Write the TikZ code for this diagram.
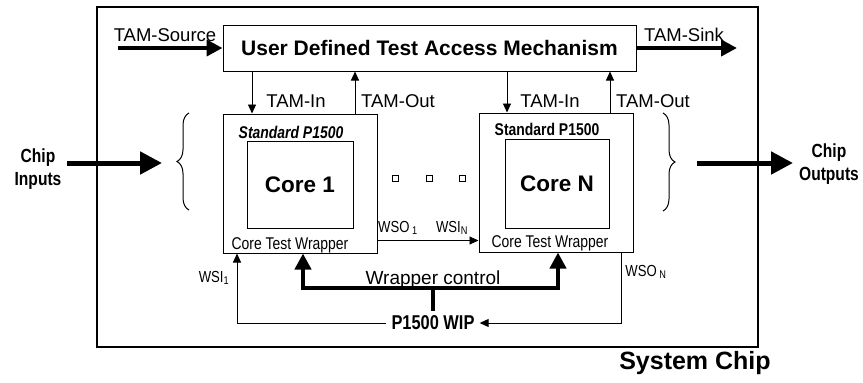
\documentclass[tikz,border=0pt]{standalone}
\usepackage{fontspec}
\setmainfont{Liberation Sans}
\newfontfamily\narrowfont[FakeStretch=0.82]{Liberation Sans}
\usetikzlibrary{arrows.meta,decorations.pathreplacing}

\newcommand{\fsz}[1]{\fontsize{#1}{#1}\selectfont}

\begin{document}
\begin{tikzpicture}[x=1pt,y=-1pt,
  box/.style={draw,line width=1pt,inner sep=0pt},
  lbl/.style={inner sep=1pt,font=\fsz{18.5}},
  nlbl/.style={inner sep=1pt,font=\narrowfont\fsz{16}},
  thinarr/.style={line width=0.9pt,-{Triangle[length=9pt,width=8pt]}},
  fatarr/.style={line width=4pt,-{Triangle[length=16pt,width=16pt]}},
  bigarr/.style={line width=5pt,-{Triangle[length=22pt,width=22pt]}},
  brc/.style={decorate,decoration={brace,amplitude=12pt},line width=1pt},
  sq/.style={draw,line width=0.8pt,minimum size=6pt,inner sep=0pt}]
\useasboundingbox (0,0) rectangle (863,383);

\node[box,line width=1.3pt,minimum width=661pt,minimum height=340pt] (chip) at (427.5,177) {};
\node[font=\bfseries\fsz{25}] (chipname) at (695,363) {System Chip};

% test access mechanism
\node[box,minimum width=413pt,minimum height=46pt,font=\bfseries\fsz{21}] (tam) at (429.5,48) {User Defined Test Access Mechanism};
\coordinate (src) at (118,48);
\coordinate (snk) at (737,48);
\draw[fatarr] (src) -- (tam.west);
\draw[fatarr] (tam.east) -- (snk);
\node[lbl] (srclbl) at (165,35) {TAM-Source};
\node[lbl] (snklbl) at (684,35) {TAM-Sink};

% wrapped cores
\node[box,minimum width=154pt,minimum height=139pt] (w1) at (300,183.5) {};
\node[box,minimum width=106pt,minimum height=87pt,font=\bfseries\fsz{22.5}] (c1) at (300,184.5) {Core 1};
\node[font=\narrowfont\bfseries\itshape\fsz{17}] (std1) at (291,132) {Standard P1500};
\node[font=\narrowfont\fsz{17}] (ctw1) at (290,245) {Core Test Wrapper};

\node[box,minimum width=154pt,minimum height=139pt] (wN) at (556,182.5) {};
\node[box,minimum width=104pt,minimum height=89pt,font=\bfseries\fsz{22.5}] (cN) at (557,183.5) {Core N};
\node[font=\narrowfont\bfseries\fsz{17}] (stdN) at (547,129) {Standard P1500};
\node[font=\narrowfont\fsz{17}] (ctwN) at (550,243) {Core Test Wrapper};

\foreach \x in {395,429,462}
  \node[sq] at (\x,178) {};

% TAM-In / TAM-Out
\draw[thinarr] ([xshift=-48pt]w1.north |- tam.south) -- ([xshift=-48pt]w1.north);
\draw[thinarr] ([xshift=55pt]w1.north) -- ([xshift=55pt]w1.north |- tam.south);
\draw[thinarr] ([xshift=-49pt]wN.north |- tam.south) -- ([xshift=-49pt]wN.north);
\draw[thinarr] ([xshift=54pt]wN.north) -- ([xshift=54pt]wN.north |- tam.south);
\node[lbl] (in1) at (296,101) {TAM-In};
\node[lbl] (out1) at (398,101) {TAM-Out};
\node[lbl] (inN) at (550,101) {TAM-In};
\node[lbl] (outN) at (653,101) {TAM-Out};

% chip pins
\draw[brc] (189,210) -- (189,113);
\draw[brc] (663,113) -- (663,211);
\node[font=\narrowfont\bfseries\fontsize{19}{23}\selectfont,align=center] (chipin) at (38,169) {Chip\\Inputs};
\node[font=\narrowfont\bfseries\fontsize{19}{23}\selectfont,align=center] (chipout) at (829,164) {Chip\\Outputs};
\coordinate (inL) at (67,163);
\coordinate (inR) at (162,163);
\coordinate (outL) at (697,163);
\coordinate (outR) at (793,163);
\draw[bigarr] (inL) -- (inR);
\draw[bigarr] (outL) -- (outR);

% wrapper serial path
\draw[thinarr] ([yshift=13pt]w1.south east) -- ([yshift=12pt]wN.south west);
\node[nlbl] (wso1) at (398,228) {WSO\,\textsubscript{1}};
\node[nlbl] (wsin) at (452,228) {WSI\textsubscript{N}};

\node[font=\narrowfont\bfseries\fsz{20},inner sep=5pt] (wip) at (433,323) {P1500 WIP};
\draw[thinarr] (wip.west) -| ([xshift=-63pt]w1.south);
\draw[thinarr] ([xshift=65pt]wN.south) |- (wip.east);
\node[nlbl] (wsi1) at (214,278) {WSI\textsubscript{1}};
\node[nlbl] (wson) at (646,272) {WSO\,\textsubscript{N}};

% wrapper control
\coordinate (ctl) at (433,288);
\draw[line width=4pt] (wip.north) -- (ctl);
\draw[fatarr] (ctl) -| ([xshift=3pt]w1.south);
\draw[fatarr] (ctl) -| ([xshift=2pt]wN.south);
\node[font=\fsz{19},inner sep=1pt] (ctllbl) at (433,280) {Wrapper control};
\end{tikzpicture}
\end{document}
